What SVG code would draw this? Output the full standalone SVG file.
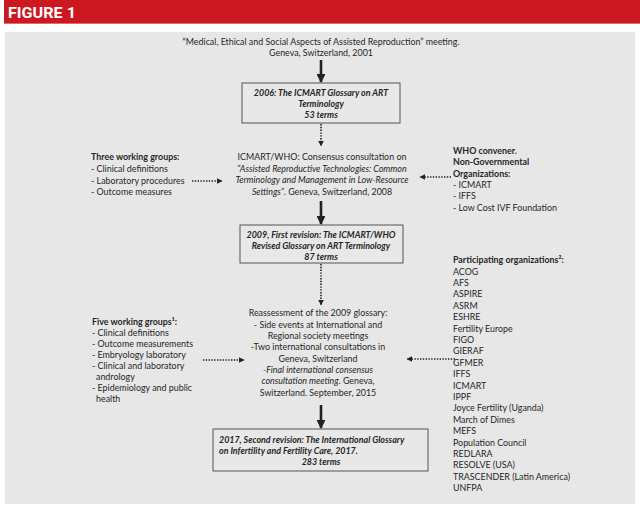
<svg xmlns="http://www.w3.org/2000/svg" width="640" height="509" viewBox="0 0 640 509">
<style>
text{font-family:Lato,"Open Sans","DejaVu Sans",sans-serif;font-size:8.9px;fill:#262626}
.c{text-anchor:middle}
.b{font-weight:bold}
.i{font-style:italic}
.bi{font-weight:bold;font-style:italic}
.box{fill:#e8e8e8;stroke:#555;stroke-width:1}
.solid{stroke:#222;stroke-width:2.6;fill:none}
.dot{stroke:#222;stroke-width:1.6;stroke-dasharray:1.4 1.4;fill:none}
</style>
<defs>
<marker id="hs" viewBox="0 0 10 10" refX="9" refY="5" markerWidth="3.4" markerHeight="3.4" orient="auto" markerUnits="strokeWidth"><path d="M0,0L10,5L0,10z" fill="#222"/></marker>
<marker id="hd" viewBox="0 0 10 10" refX="9" refY="5" markerWidth="3.6" markerHeight="3.6" orient="auto" markerUnits="strokeWidth"><path d="M0,0L10,5L0,10z" fill="#222"/></marker>
</defs>
<rect x="0" y="0" width="640" height="509" fill="#fff"/>
<rect x="4" y="0" width="636" height="24" fill="#cc1820"/>
<rect x="4" y="23" width="636" height="1" fill="#e06a6e"/>
<text x="8" y="18" style="font-family:Roboto,'Liberation Sans',sans-serif;font-weight:bold;font-size:14.5px;fill:#fff" textLength="68" lengthAdjust="spacingAndGlyphs">FIGURE 1</text>
<rect x="5" y="32" width="630" height="472" fill="#e7e7e8"/>

<g id="connectors">
<line class="solid" x1="321" y1="60" x2="321" y2="82" marker-end="url(#hs)"/>
<line class="dot" x1="321" y1="124" x2="321" y2="146" marker-end="url(#hd)"/>
<line class="solid" x1="321" y1="201" x2="321" y2="224" marker-end="url(#hs)"/>
<line class="dot" x1="321" y1="264" x2="321" y2="305" marker-end="url(#hd)"/>
<line class="solid" x1="321" y1="405" x2="321" y2="428" marker-end="url(#hs)"/>
<line class="dot" x1="192" y1="181" x2="222" y2="181" marker-end="url(#hd)"/>
<line class="dot" x1="451" y1="177" x2="420" y2="177" marker-end="url(#hd)"/>
<line class="dot" x1="203" y1="360" x2="244" y2="360" marker-end="url(#hd)"/>
<line class="dot" x1="455" y1="359" x2="407" y2="359" marker-end="url(#hd)"/>
</g>

<g id="meeting2001">
<text class="c" x="321" y="45">“Medical, Ethical and Social Aspects of Assisted Reproduction” meeting.</text>
<text class="c" x="321" y="56">Geneva, Switzerland, 2001</text>
</g>

<g id="glossary2006">
<rect class="box" x="242" y="83" width="158" height="40"/>
<text class="c bi" x="321" y="96">2006: The ICMART Glossary on ART</text>
<text class="c bi" x="321" y="107">Terminology</text>
<text class="c bi" x="321" y="118">53 terms</text>
</g>

<g id="consultation2008">
<text class="c" x="322" y="160">ICMART/WHO: Consensus consultation on</text>
<text class="c i" x="322" y="172">“Assisted Reproductive Technologies: Common</text>
<text class="c i" x="322" y="183">Terminology and Management in Low-Resource</text>
<text class="c" x="322" y="195"><tspan class="i">Settings”</tspan>. Geneva, Switzerland, 2008</text>
</g>

<g id="threeGroups">
<text class="b" x="91" y="160">Three working groups:</text>
<text x="91" y="172">- Clinical definitions</text>
<text x="91" y="184">- Laboratory procedures</text>
<text x="91" y="195">- Outcome measures</text>
</g>

<g id="whoConvener">
<text class="b" x="453" y="154">WHO convener.</text>
<text class="b" x="453" y="165">Non-Governmental</text>
<text class="b" x="453" y="177">Organizations:</text>
<text x="453" y="188">- ICMART</text>
<text x="453" y="199">- IFFS</text>
<text x="453" y="211">- Low Cost IVF Foundation</text>
</g>

<g id="revision2009">
<rect class="box" x="240" y="225" width="163" height="38"/>
<text class="c bi" x="321" y="238">2009, First revision: The ICMART/WHO</text>
<text class="c bi" x="321" y="249">Revised Glossary on ART Terminology</text>
<text class="c bi" x="321" y="260">87 terms</text>
</g>

<g id="reassessment">
<text class="c" x="318" y="316">Reassessment of  the 2009 glossary:</text>
<text class="c" x="318" y="327.5">- Side events at International  and</text>
<text class="c" x="318" y="339">Regional society meetings</text>
<text class="c" x="318" y="350">-Two international consultations in</text>
<text class="c" x="318" y="361.5">Geneva, Switzerland</text>
<text class="c i" x="318" y="373">-Final international consensus</text>
<text class="c" x="318" y="384"><tspan class="i">consultation meeting</tspan>. Geneva,</text>
<text class="c" x="318" y="395.5">Switzerland. September, 2015</text>
</g>

<g id="fiveGroups">
<text class="b" x="92" y="325">Five working groups¹:</text>
<text x="92" y="336">- Clinical definitions</text>
<text x="92" y="347">- Outcome measurements</text>
<text x="92" y="358">- Embryology laboratory</text>
<text x="92" y="369">- Clinical and laboratory</text>
<text x="96" y="380">andrology</text>
<text x="92" y="391">- Epidemiology and public</text>
<text x="96" y="402">health</text>
</g>

<g id="participating">
<text class="b" x="453" y="263">Participating organizations²:</text>
<text x="453" y="274.5">ACOG</text>
<text x="453" y="285.9">AFS</text>
<text x="453" y="297.3">ASPIRE</text>
<text x="453" y="308.7">ASRM</text>
<text x="453" y="320.1">ESHRE</text>
<text x="453" y="331.5">Fertility Europe</text>
<text x="453" y="342.9">FIGO</text>
<text x="453" y="354.3">GIERAF</text>
<text x="453" y="365.7">GFMER</text>
<text x="453" y="377.1">IFFS</text>
<text x="453" y="388.5">ICMART</text>
<text x="453" y="399.9">IPPF</text>
<text x="453" y="411.3">Joyce Fertility (Uganda)</text>
<text x="453" y="422.7">March of Dimes</text>
<text x="453" y="434.1">MEFS</text>
<text x="453" y="445.5">Population Council</text>
<text x="453" y="456.9">REDLARA</text>
<text x="453" y="468.3">RESOLVE (USA)</text>
<text x="453" y="479.7">TRASCENDER (Latin America)</text>
<text x="453" y="491.1">UNFPA</text>
</g>

<g id="revision2017">
<rect class="box" x="213" y="429" width="215" height="42"/>
<text class="bi" x="219" y="443">2017, Second revision: The International Glossary</text>
<text class="bi" x="219" y="454">on Infertility and Fertility Care, 2017.</text>
<text class="c bi" x="321" y="465">283 terms</text>
</g>
</svg>
